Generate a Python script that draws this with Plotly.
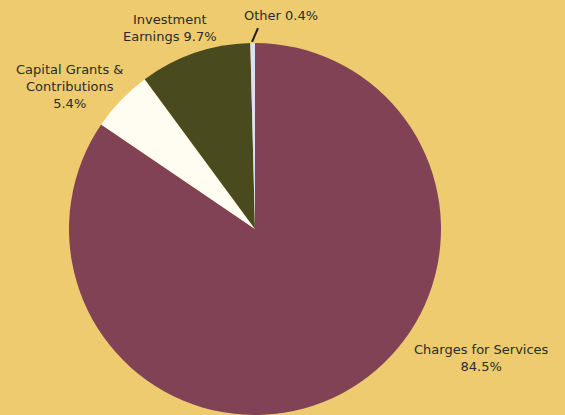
import plotly.graph_objects as go

categories = ["Charges for Services", "Capital Grants & Contributions", "Investment Earnings", "Other"]
values = [84.5, 5.4, 9.7, 0.4]
colors = ["#824256", "#FFFCF1", "#4A4A1F", "#DCE0F2"]
label_texts = ["Charges for Services<br>84.5%", "Capital Grants &<br>Contributions<br>5.4%",
               "Investment<br>Earnings 9.7%", "Other 0.4%"]

BG = "#EDCB6E"

fig = go.Figure(go.Pie(
    labels=categories, values=values, sort=False, direction="clockwise", rotation=0,
    marker=dict(colors=colors, line=dict(width=0)), textinfo="none", hoverinfo="label+percent",
    showlegend=False,
))

font = dict(family="DejaVu Sans, sans-serif", size=13, color="#2B2B2B")
positions = [(1.110, 0.153), (0.0, 0.884), (0.272, 1.040), (0.570, 1.075)]
for txt, (x, y) in zip(label_texts, positions):
    fig.add_annotation(x=x, y=y, xref="paper", yref="paper", text=txt, showarrow=False,
                       font=font, align="center", xanchor="center", yanchor="middle")

fig.add_shape(type="line", xref="paper", yref="paper", x0=0.492, y0=1.003, x1=0.508, y1=1.040,
              line=dict(color="#1A1A1A", width=2))

fig.update_layout(
    width=565, height=415, paper_bgcolor=BG, plot_bgcolor=BG,
    margin=dict(l=69, r=124, t=43, b=0),
)
fig.write_html("out.html", config={"displayModeBar": False},
               post_script="document.body.style.margin='0';document.body.style.overflow='hidden';")
